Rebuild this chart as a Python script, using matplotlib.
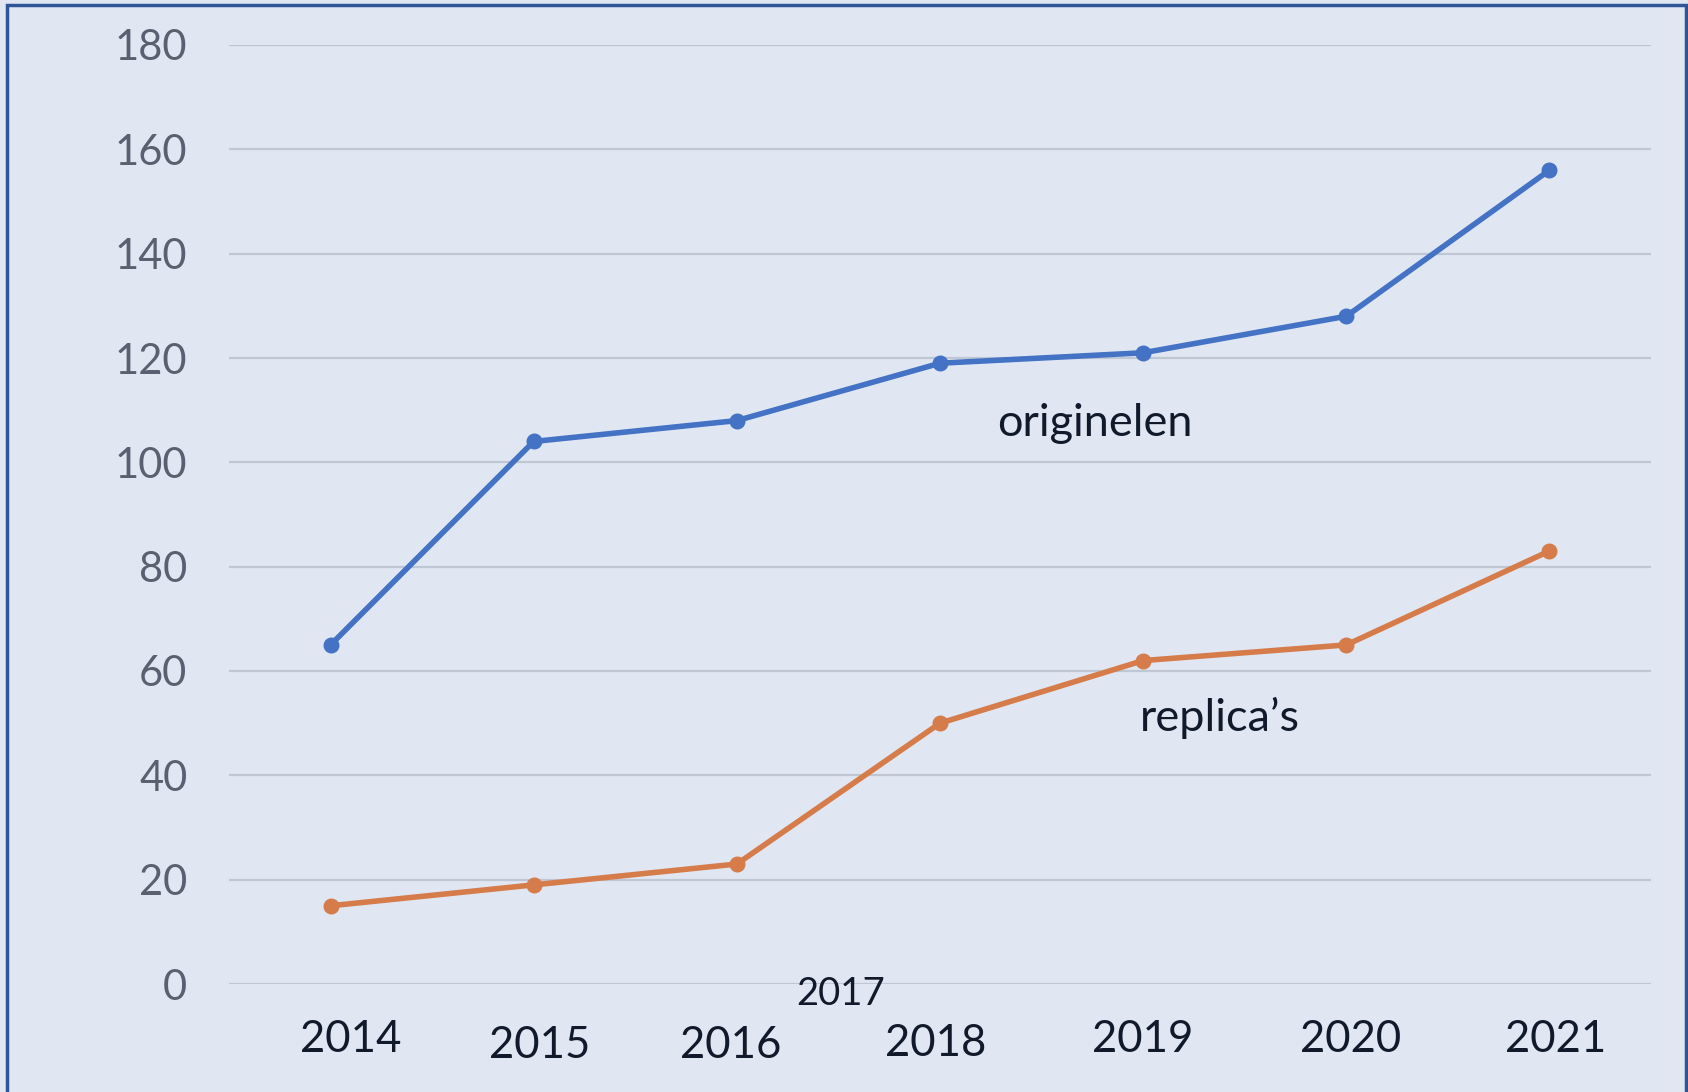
import matplotlib
matplotlib.use("Agg")
import matplotlib.pyplot as plt
from matplotlib.patches import Rectangle

# ---- data ----
categories = ["2014", "2015", "2016", "2018", "2019", "2020", "2021"]
originelen = [65, 104, 108, 119, 121, 128, 156]
replicas = [15, 19, 23, 50, 62, 65, 83]
y_ticks = [0, 20, 40, 60, 80, 100, 120, 140, 160, 180]
series_labels = ["originelen", "replica\u2019s"]
extra_label = "2017"

# ---- style ----
BG = "#E0E7F3"
BLUE = "#4472C4"
ORANGE = "#D67C4A"
GRID = "#BFC6D4"
TXT = "#111A2B"
YTXT = "#5A6070"
FONT = ["Lato", "DejaVu Sans"]

plt.rcParams["font.family"] = FONT

fig = plt.figure(figsize=(16.88, 10.92), dpi=100, facecolor=BG)
ax = fig.add_axes([229/1688, 1 - 984/1092, (1651-229)/1688, (984-45)/1092])
ax.set_facecolor(BG)

x = list(range(len(categories)))
ax.plot(x, originelen, color=BLUE, lw=4.0, marker="o", ms=10.5, solid_capstyle="round", zorder=3)
ax.plot(x, replicas, color=ORANGE, lw=4.0, marker="o", ms=10.5, solid_capstyle="round", zorder=3)

ax.set_xlim(-0.5, len(categories) - 0.5)
ax.set_ylim(0, 180)
ax.set_yticks(y_ticks)
ax.set_yticklabels([str(v) for v in y_ticks], fontsize=30, color=YTXT)
ax.tick_params(axis="y", length=0, pad=30)
ax.set_xticks([])
ax.grid(axis="y", color=GRID, lw=1.6, zorder=1)
for s in ax.spines.values():
    s.set_visible(False)

# category labels (placed individually as in the reference)
xlab_dx = [0.1, 0.03, -0.03, -0.02, 0.0, 0.02, 0.03]
xlab_y = [-0.059, -0.066, -0.066, -0.063, -0.059, -0.059, -0.059]
tr = ax.get_xaxis_transform()
for i, lab in enumerate(categories):
    ax.text(x[i] + xlab_dx[i], xlab_y[i], lab, transform=tr, ha="center", va="center",
            fontsize=31.5, color=TXT)
ax.text(2.51, -0.011, extra_label, transform=tr, ha="center", va="center",
        fontsize=27.5, color=TXT)

# series labels
ax.text(3.76, 107.4, series_labels[0], ha="center", va="center", fontsize=32.5, color=TXT)
ax.text(4.38, 51.0, series_labels[1], ha="center", va="center", fontsize=32.5, color=TXT)

# outer border
fig.patches.append(Rectangle((7/1688, -0.02), (1686-7)/1688, 1 - 5/1092 + 0.02,
                             transform=fig.transFigure, fill=False,
                             edgecolor="#2F5597", lw=2.5))

fig.savefig("out.png", dpi=100, facecolor=BG)
